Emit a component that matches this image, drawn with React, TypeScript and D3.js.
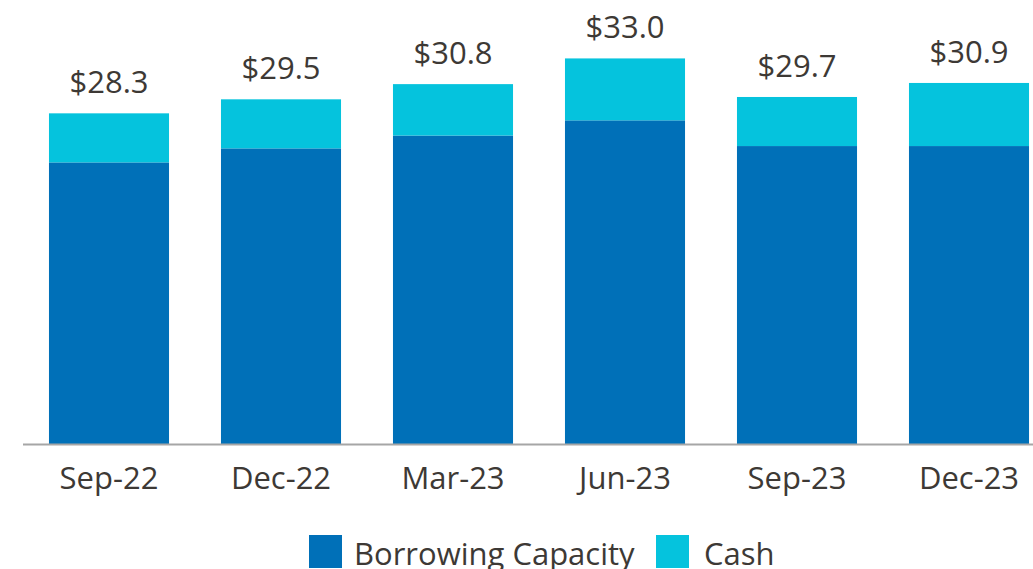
import React from "react";
import * as d3 from "d3";

const categories = ["Sep-22", "Dec-22", "Mar-23", "Jun-23", "Sep-23", "Dec-23"];
const borrowingCapacity = [24.1, 25.3, 26.4, 27.7, 25.5, 25.5];
const cash = [4.2, 4.2, 4.4, 5.3, 4.2, 5.4];
const totalLabels = ["$28.3", "$29.5", "$30.8", "$33.0", "$29.7", "$30.9"];
const seriesNames = ["Borrowing Capacity", "Cash"];

const W = 1033;
const H = 569;
const COLORS = ["#0070b8", "#05c3dd"];
const TEXT = "#3d3935";
const FONT = "'Open Sans', sans-serif";
const FS = 31;

export default function App() {
  const x = d3.scaleBand<string>().domain(categories).range([23, 1055]).paddingInner(0.302).paddingOuter(0.151);
  const y = d3.scaleLinear().domain([0, 38]).range([444, 0]);
  const rows = categories.map((c, i) => ({ cat: c, bc: borrowingCapacity[i], cash: cash[i] }));
  const stack = d3.stack<any>().keys(["bc", "cash"])(rows);

  return (
    <svg width={W} height={H} style={{ position: "absolute", left: 0, top: 0, background: "#fff" }}>
      {stack.map((layer, li) =>
        layer.map((d, i) => (
          <rect
            key={`${li}-${i}`}
            x={x(categories[i])}
            y={y(d[1])}
            width={x.bandwidth()}
            height={y(d[0]) - y(d[1])}
            fill={COLORS[li]}
          />
        ))
      )}
      <line x1={23} x2={W} y1={y(0) + 0.5} y2={y(0) + 0.5} stroke="#a6a6a6" strokeWidth={2} />
      {categories.map((c, i) => (
        <text key={c} x={x(c)! + x.bandwidth() / 2} y={489} textAnchor="middle" fontFamily={FONT} fontSize={FS} fill={TEXT}>
          {c}
        </text>
      ))}
      {categories.map((c, i) => (
        <text
          key={"t" + c}
          x={x(c)! + x.bandwidth() / 2}
          y={y(borrowingCapacity[i] + cash[i]) - 20}
          textAnchor="middle"
          fontFamily={FONT}
          fontSize={FS}
          fill={TEXT}
        >
          {totalLabels[i]}
        </text>
      ))}
      <g>
        <rect x={309} y={535} width={33} height={33} fill={COLORS[0]} />
        <text x={354} y={565} fontFamily={FONT} fontSize={FS} fill={TEXT}>{seriesNames[0]}</text>
        <rect x={656} y={535} width={33} height={33} fill={COLORS[1]} />
        <text x={704} y={565} fontFamily={FONT} fontSize={FS} fill={TEXT}>{seriesNames[1]}</text>
      </g>
    </svg>
  );
}
